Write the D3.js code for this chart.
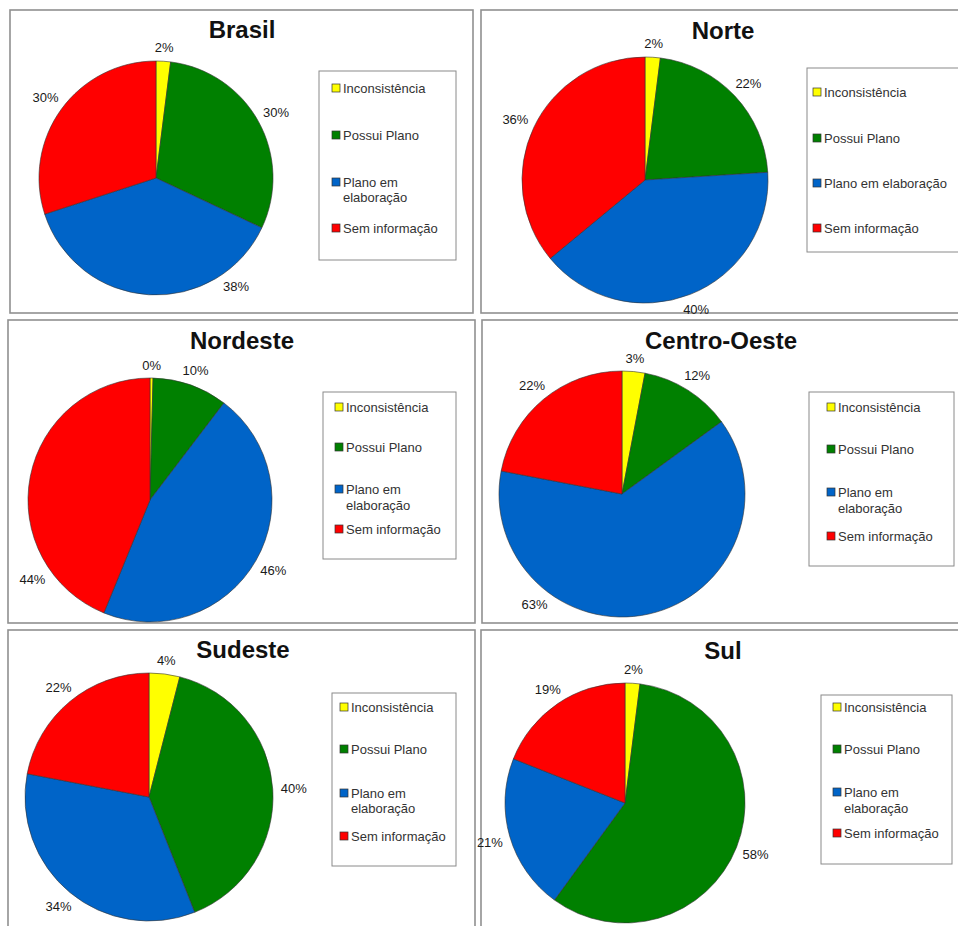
<!DOCTYPE html>
<html>
<head>
<meta charset="utf-8">
<script src="https://cdn.jsdelivr.net/npm/d3@7/dist/d3.min.js"></script>
<style>
  html, body { margin: 0; padding: 0; background: #fff; }
  svg { display: block; }
  text { font-family: "Liberation Sans", Arial, sans-serif; }
</style>
</head>
<body>
<svg id="chart" width="958" height="926"></svg>
<script>
// ---- data ----
const regions = ["Brasil", "Norte", "Nordeste", "Centro-Oeste", "Sudeste", "Sul"];
const categories = ["Inconsistência", "Possui Plano", "Plano em elaboração", "Sem informação"];
const brasil      = [2, 30, 38, 30];
const norte       = [2, 22, 40, 36];
const nordeste    = [0.4, 10, 46, 44];
const centroOeste = [3, 12, 63, 22];
const sudeste     = [4, 40, 34, 22];
const sul         = [2, 58, 21, 19];
const seriesValues = [brasil, norte, nordeste, centroOeste, sudeste, sul];

// ---- styles / layout ----
const colors = ["#ffff00", "#008000", "#0064c8", "#ff0000"];
const layout = [
  {box:[10,10,463,303],  cx:156, cy:178, r:117, tx:242, ty:38,  lg:[319,71,137,189],  sq:332, iy:[88,135,[182,197],228], shift:{2:-40}},
  {box:[481,10,490,303], cx:645, cy:180, r:123, tx:723, ty:39,  lg:[807,68,160,184],  sq:813, iy:[92,138,183,228], shift:{}},
  {box:[8,320,467,303],  cx:150, cy:500, r:122, tx:242, ty:349, lg:[323,392,133,167], sq:335, iy:[407,447,[489,505],529], shift:{3:-45}},
  {box:[482,320,490,303],cx:622, cy:494, r:123, tx:721, ty:349, lg:[809,392,145,174], sq:827, iy:[407,449,[492,508],536], shift:{2:51}},
  {box:[8,630,467,310],  cx:149, cy:797, r:124, tx:243, ty:658, lg:[332,693,124,173], sq:340, iy:[707,749,[793,808],836], shift:{}},
  {box:[481,630,490,310],cx:625, cy:803, r:120, tx:723, ty:659, lg:[821,695,131,169], sq:833, iy:[707,749,[792,808],833], shift:{}}
];

const svg = d3.select("#chart");
const color = d3.scaleOrdinal().domain(categories).range(colors);
const pie = d3.pie().sort(null).value(d => d.v);

regions.forEach((name, i) => {
  const L = layout[i];
  const vals = seriesValues[i];
  const total = d3.sum(vals);
  const g = svg.append("g");

  // panel frame
  g.append("rect")
    .attr("x", L.box[0]).attr("y", L.box[1])
    .attr("width", L.box[2]).attr("height", L.box[3])
    .attr("fill", "#fff").attr("stroke", "#909090").attr("stroke-width", 1.6);

  // title
  g.append("text")
    .attr("x", L.tx).attr("y", L.ty)
    .attr("text-anchor", "middle")
    .attr("font-size", 24).attr("font-weight", "bold").attr("fill", "#111")
    .text(name);

  // pie
  const data = pie(categories.map((c, k) => ({c, v: vals[k]})));
  const arc = d3.arc().innerRadius(0).outerRadius(L.r);
  const pg = g.append("g").attr("transform", `translate(${L.cx},${L.cy})`);
  pg.selectAll("path").data(data).join("path")
    .attr("d", arc)
    .attr("fill", d => color(d.data.c))
    .attr("stroke", "#333").attr("stroke-width", 0.6);

  // labels
  pg.selectAll("text.lbl").data(data).join("text")
    .attr("class", "lbl")
    .each(function(d, k) {
      let a = (d.startAngle + d.endAngle) / 2;
      if (L.shift[k] !== undefined) a += L.shift[k] * Math.PI / 180;
      const rr = L.r + 13 + Math.abs(Math.sin(a)) * 8;
      d3.select(this)
        .attr("x", rr * Math.sin(a))
        .attr("y", -rr * Math.cos(a))
        .attr("dy", "0.36em");
    })
    .attr("text-anchor", "middle")
    .attr("font-size", 13).attr("fill", "#1a1a1a")
    .text(d => Math.round(d.data.v / total * 100) + "%");

  // legend
  const lg = g.append("g");
  lg.append("rect")
    .attr("x", L.lg[0]).attr("y", L.lg[1])
    .attr("width", L.lg[2]).attr("height", L.lg[3])
    .attr("fill", "#fff").attr("stroke", "#8a8a8a").attr("stroke-width", 1);
  categories.forEach((c, k) => {
    const y = L.iy[k];
    const ys = Array.isArray(y) ? y : [y];
    lg.append("rect")
      .attr("x", L.sq).attr("y", ys[0] - 4)
      .attr("width", 8).attr("height", 8)
      .attr("fill", color(c)).attr("stroke", "#333").attr("stroke-width", 0.7);
    const t = lg.append("text")
      .attr("font-size", 13).attr("fill", "#333");
    if (ys.length > 1) {
      const parts = c.split(" ");
      const first = parts.slice(0, 2).join(" ");
      const second = parts.slice(2).join(" ");
      t.append("tspan").attr("x", L.sq + 11).attr("y", ys[0] + 4.5).text(first);
      t.append("tspan").attr("x", L.sq + 11).attr("y", ys[1] + 4.5).text(second);
    } else {
      t.attr("x", L.sq + 11).attr("y", ys[0] + 4.5).text(c);
    }
  });
});
</script>
</body>
</html>
